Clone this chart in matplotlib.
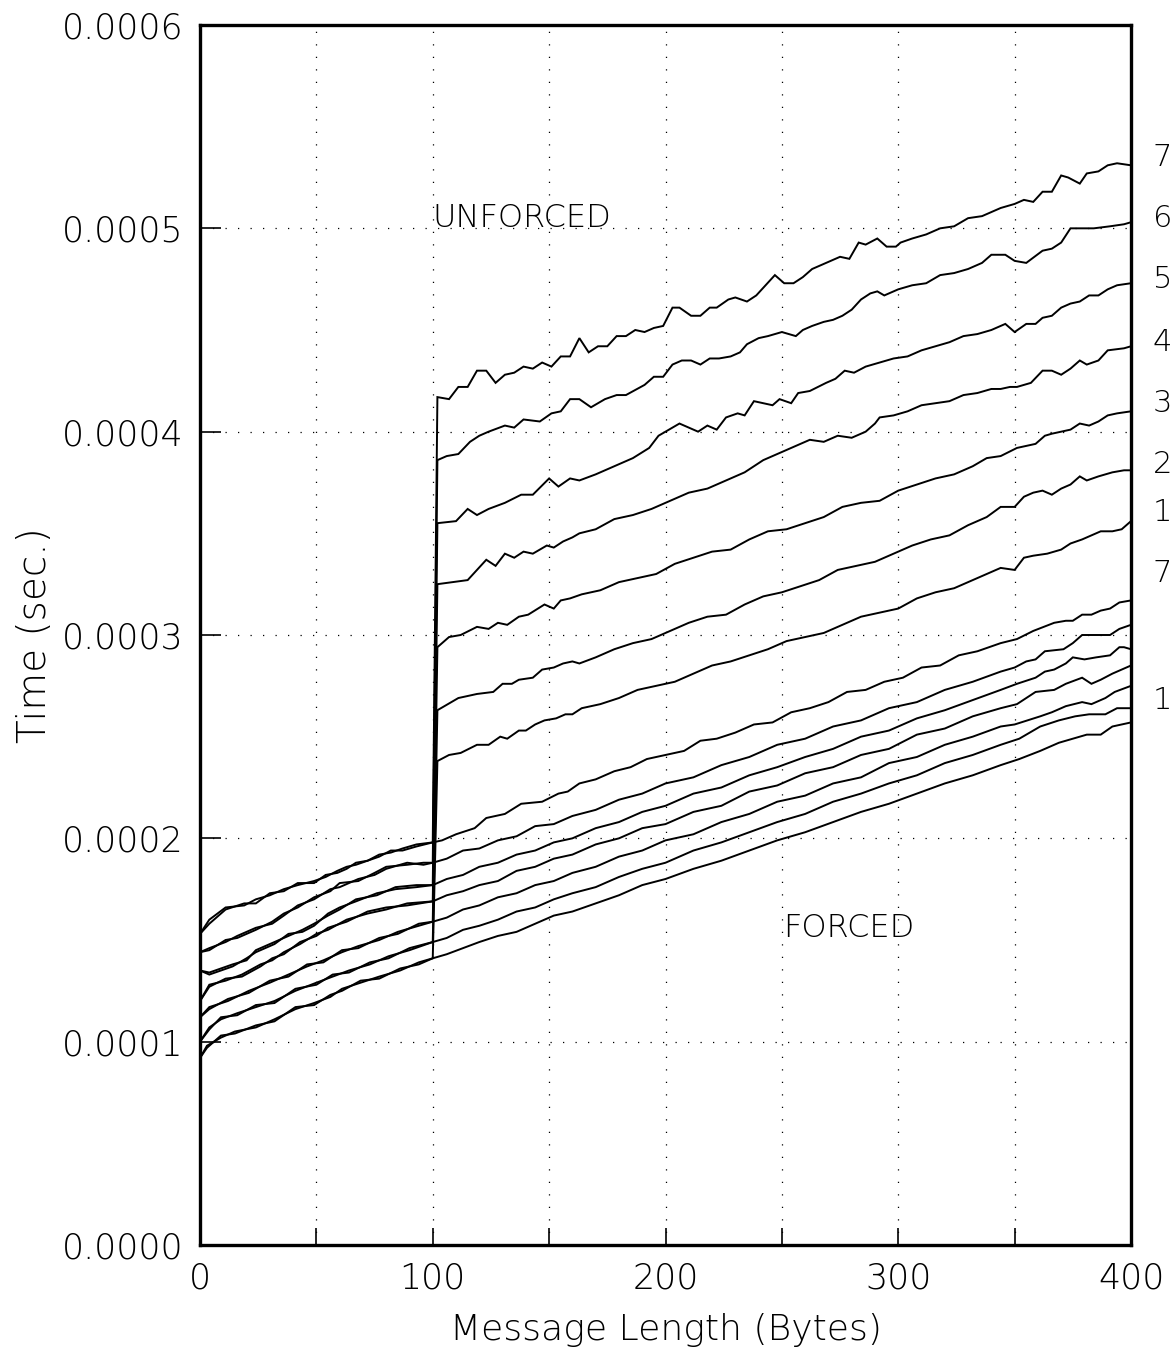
import matplotlib
matplotlib.use("Agg")
import matplotlib.pyplot as plt
from matplotlib.ticker import MultipleLocator, FormatStrFormatter

# ---------------- data (time in microseconds, message length in bytes) -------------
# Forced runs 1..7
f1_x = [0, 3, 9, 15, 24, 32, 41, 49, 56, 61, 69, 77, 86, 94, 100, 106, 113, 120, 128, 136, 144, 152, 160,
        170, 180, 190, 200, 212, 224, 236, 248, 260, 272, 284, 296, 308, 320, 332, 344, 352, 361, 369, 375,
        381, 387, 392, 400]
f1_y = [92, 98, 102, 105, 107, 111, 116, 119, 122, 126, 129, 132, 135, 139, 141, 143, 146, 149, 152, 154,
        158, 162, 164, 168, 172, 177, 180, 185, 189, 194, 199, 203, 208, 213, 217, 222, 227, 231, 236, 239,
        243, 247, 249, 251, 251, 255, 257]

f2_x = [0, 4, 9, 16, 24, 32, 41, 50, 57, 64, 73, 81, 90, 100, 106, 113, 120, 128, 136, 144, 152, 160, 170,
        180, 190, 200, 212, 224, 236, 248, 260, 272, 284, 296, 308, 320, 332, 344, 352, 361, 369, 376, 382,
        389, 394, 400]
f2_y = [100, 107, 111, 114, 117, 120, 125, 129, 132, 135, 138, 142, 145, 149, 151, 155, 157, 160, 164, 166,
        170, 173, 176, 181, 185, 188, 194, 198, 203, 208, 212, 218, 222, 227, 231, 237, 241, 246, 249, 255,
        258, 260, 261, 261, 264, 264]

f3_x = [0, 4, 12, 21, 30, 38, 46, 53, 61, 68, 77, 85, 94, 100, 106, 113, 120, 128, 136, 144, 152, 160, 170,
        180, 190, 200, 212, 224, 236, 248, 260, 272, 284, 296, 308, 320, 332, 344, 350, 361, 366, 372, 379,
        383, 389, 393, 400]
f3_y = [112, 117, 120, 125, 129, 133, 137, 140, 144, 147, 150, 154, 157, 159, 161, 165, 167, 171, 173, 177,
        179, 183, 186, 191, 194, 199, 202, 208, 212, 218, 221, 227, 230, 237, 240, 246, 250, 255, 256, 260,
        262, 265, 267, 266, 269, 272, 275]

f4_x = [0, 4, 11, 18, 26, 31, 36, 43, 50, 55, 63, 72, 80, 89, 100, 106, 113, 120, 128, 136, 144, 152, 160,
        170, 180, 190, 200, 212, 224, 236, 248, 260, 272, 284, 296, 308, 320, 332, 344, 351, 359, 367, 372,
        379, 383, 387, 392, 400]
f4_y = [120, 128, 130, 133, 138, 140, 144, 148, 153, 155, 160, 163, 165, 168, 169, 172, 174, 177, 179, 184,
        186, 190, 192, 197, 200, 205, 207, 213, 216, 223, 226, 232, 235, 241, 244, 251, 254, 260, 264, 266,
        272, 273, 276, 279, 276, 278, 281, 285]

f5_x = [0, 4, 9, 14, 20, 24, 32, 38, 44, 49, 55, 60, 67, 76, 84, 93, 100, 106, 113, 120, 128, 136, 144, 152,
        160, 170, 180, 190, 200, 212, 224, 236, 248, 260, 272, 284, 296, 308, 320, 332, 344, 351, 359, 363,
        367, 372, 375, 380, 385, 391, 395, 397, 400]
f5_y = [135, 133, 135, 137, 141, 144, 148, 153, 154, 157, 163, 166, 169, 173, 175, 176, 177, 180, 182, 186,
        188, 192, 194, 198, 200, 205, 208, 213, 216, 222, 225, 231, 235, 240, 244, 250, 253, 259, 263, 268,
        273, 276, 279, 282, 283, 286, 289, 288, 289, 290, 294, 294, 293]

f6_x = [0, 4, 11, 16, 24, 31, 36, 42, 49, 56, 60, 68, 75, 80, 89, 96, 100, 106, 113, 120, 128, 136, 144,
        152, 160, 170, 180, 190, 200, 212, 224, 236, 248, 260, 272, 284, 296, 308, 320, 332, 344, 350, 355,
        359, 363, 371, 375, 379, 382, 387, 391, 395, 400]
f6_y = [144, 145, 150, 151, 155, 159, 163, 166, 171, 174, 178, 179, 183, 186, 187, 188, 188, 190, 194, 195,
        199, 201, 206, 207, 211, 214, 219, 222, 227, 230, 236, 240, 246, 249, 255, 258, 264, 267, 273, 277,
        282, 284, 287, 288, 292, 293, 296, 300, 300, 300, 300, 303, 305]

f7_x = [0, 4, 11, 19, 24, 30, 36, 42, 49, 54, 59, 63, 67, 72, 77, 82, 87, 93, 100, 104, 110, 118, 123, 131,
        138, 147, 154, 158, 163, 170, 178, 185, 192, 200, 208, 215, 222, 230, 238, 246, 254, 262, 270, 278,
        286, 294, 302, 310, 318, 326, 334, 344, 351, 358, 367, 372, 375, 379, 383, 387, 391, 395, 400]
f7_y = [153, 160, 166, 167, 170, 172, 175, 177, 179, 181, 184, 186, 187, 189, 192, 193, 195, 197, 198, 199,
        202, 205, 210, 212, 217, 218, 222, 223, 227, 229, 233, 235, 239, 241, 243, 248, 249, 252, 256, 257,
        262, 264, 267, 272, 273, 277, 279, 284, 285, 290, 292, 296, 298, 302, 306, 307, 307, 310, 310, 312,
        313, 316, 317]

# Unforced runs 1..7
u1_x = [0, 3, 9, 15, 24, 32, 41, 49, 56, 61, 69, 77, 86, 94, 100, 102, 107, 112, 119, 124, 129, 132, 137,
        140, 144, 148, 153, 157, 160, 164, 172, 180, 188, 196, 204, 212, 220, 228, 236, 244, 252, 260, 268,
        276, 284, 292, 300, 308, 316, 324, 332, 338, 344, 350, 354, 358, 364, 370, 374, 379, 383, 387, 392,
        396, 400]
u1_y = [92, 97, 103, 104, 108, 110, 117, 118, 123, 125, 130, 131, 136, 138, 141, 238, 241, 242, 246, 246,
        250, 249, 253, 253, 256, 258, 259, 261, 261, 264, 266, 269, 273, 275, 277, 281, 285, 287, 290, 293,
        297, 299, 301, 305, 309, 311, 313, 318, 321, 323, 327, 330, 333, 332, 338, 339, 340, 342, 345, 347,
        349, 351, 351, 352, 356]

u2_x = [0, 4, 9, 16, 24, 32, 41, 50, 57, 64, 73, 81, 90, 100, 102, 108, 111, 119, 126, 130, 134, 137, 143,
        147, 152, 156, 160, 163, 170, 178, 186, 194, 202, 210, 218, 226, 234, 242, 250, 258, 266, 274, 282,
        290, 298, 306, 314, 322, 330, 338, 344, 350, 354, 358, 362, 366, 370, 374, 378, 381, 386, 392, 397,
        400]
u2_y = [100, 106, 112, 113, 118, 119, 126, 128, 133, 134, 139, 141, 146, 149, 263, 267, 269, 271, 272, 276,
        276, 278, 279, 283, 284, 286, 287, 286, 289, 293, 296, 298, 302, 306, 309, 310, 315, 319, 321, 324,
        327, 332, 334, 336, 340, 344, 347, 349, 354, 358, 363, 363, 368, 370, 371, 369, 372, 374, 378, 376,
        378, 380, 381, 381]

u3_x = [0, 4, 12, 21, 30, 38, 46, 53, 61, 68, 77, 85, 94, 100, 102, 107, 112, 119, 124, 128, 132, 137, 141,
        148, 152, 155, 159, 164, 172, 180, 188, 196, 204, 212, 220, 228, 236, 244, 252, 260, 268, 276, 284,
        292, 300, 308, 316, 324, 332, 338, 344, 351, 355, 359, 363, 366, 370, 374, 378, 382, 386, 390, 394,
        400]
u3_y = [112, 116, 121, 124, 130, 132, 138, 139, 145, 146, 151, 153, 158, 159, 294, 299, 300, 304, 303, 306,
        305, 309, 310, 315, 313, 317, 318, 320, 322, 326, 328, 330, 335, 338, 341, 342, 347, 351, 352, 355,
        358, 363, 365, 366, 371, 374, 377, 379, 383, 387, 388, 392, 393, 394, 398, 399, 400, 401, 404, 403,
        405, 408, 409, 410]

u4_x = [0, 4, 11, 18, 26, 31, 36, 43, 50, 55, 63, 72, 80, 89, 100, 102, 115, 123, 127, 131, 135, 139, 143,
        149, 152, 156, 160, 163, 170, 178, 186, 194, 202, 210, 218, 226, 234, 242, 250, 256, 262, 268, 274,
        280, 286, 290, 292, 298, 304, 310, 316, 322, 328, 334, 340, 344, 348, 351, 357, 362, 366, 370, 374,
        378, 381, 386, 390, 397, 400]
u4_y = [120, 127, 131, 132, 137, 141, 143, 149, 152, 156, 159, 164, 166, 167, 169, 325, 327, 337, 334, 340,
        338, 341, 340, 344, 343, 346, 348, 350, 352, 357, 359, 362, 366, 370, 372, 376, 380, 386, 390, 393,
        396, 395, 398, 397, 400, 404, 407, 408, 410, 413, 414, 415, 418, 419, 421, 421, 422, 422, 424, 430,
        430, 428, 431, 435, 433, 435, 440, 441, 442]

u5_x = [0, 4, 9, 14, 20, 24, 32, 38, 44, 49, 55, 60, 67, 76, 84, 93, 100, 102, 110, 115, 119, 124, 131,
        138, 143, 150, 154, 159, 163, 170, 178, 186, 193, 197, 206, 214, 218, 222, 226, 231, 234, 238, 242,
        246, 249, 254, 257, 262, 269, 273, 277, 281, 286, 292, 298, 304, 310, 316, 322, 328, 334, 340, 346,
        350, 355, 359, 362, 366, 370, 374, 378, 382, 386, 390, 394, 400]
u5_y = [135, 134, 136, 138, 140, 145, 149, 152, 155, 158, 162, 165, 170, 172, 176, 177, 177, 355, 356, 362,
        359, 362, 365, 369, 369, 377, 373, 377, 376, 379, 383, 387, 392, 398, 404, 400, 403, 401, 407, 409,
        408, 415, 414, 413, 416, 414, 419, 420, 424, 426, 430, 429, 432, 434, 436, 437, 440, 442, 444, 447,
        448, 450, 453, 449, 453, 453, 456, 457, 461, 463, 464, 467, 467, 470, 472, 473]

u6_x = [0, 4, 11, 16, 24, 31, 36, 42, 49, 56, 60, 68, 75, 80, 89, 96, 100, 102, 106, 111, 116, 120, 124,
        131, 135, 139, 146, 151, 155, 159, 163, 168, 174, 179, 183, 191, 195, 199, 203, 207, 211, 215, 219,
        223, 228, 232, 235, 240, 244, 250, 256, 259, 263, 268, 272, 276, 280, 284, 288, 291, 294, 300, 306,
        312, 318, 324, 330, 336, 340, 346, 350, 355, 362, 366, 370, 374, 379, 384, 391, 397, 400]
u6_y = [144, 146, 149, 152, 156, 158, 162, 167, 170, 175, 176, 180, 182, 185, 188, 187, 188, 386, 388, 389,
        395, 398, 400, 403, 402, 406, 405, 409, 410, 416, 416, 412, 416, 418, 418, 423, 427, 427, 433, 435,
        435, 433, 436, 436, 437, 439, 443, 446, 447, 449, 447, 450, 452, 454, 455, 457, 460, 465, 468, 469,
        467, 470, 472, 473, 477, 478, 480, 483, 487, 487, 484, 483, 489, 490, 493, 500, 500, 500, 501, 502,
        503]

u7_x = [0, 4, 11, 19, 24, 30, 36, 42, 49, 54, 59, 63, 67, 72, 77, 82, 87, 93, 100, 102, 107, 111, 115, 119,
        123, 127, 131, 135, 139, 143, 147, 151, 155, 159, 163, 167, 171, 175, 179, 183, 187, 191, 195, 199,
        203, 206, 211, 215, 219, 222, 227, 230, 235, 239, 247, 251, 255, 259, 263, 267, 271, 275, 279, 283,
        286, 291, 295, 299, 301, 306, 312, 318, 324, 330, 336, 340, 344, 350, 354, 358, 362, 366, 370, 373,
        378, 381, 386, 390, 394, 400]
u7_y = [153, 158, 165, 168, 168, 173, 174, 178, 178, 182, 183, 185, 188, 189, 191, 194, 194, 196, 198, 417,
        416, 422, 422, 430, 430, 424, 428, 429, 432, 431, 434, 432, 437, 437, 446, 439, 442, 442, 447, 447,
        450, 449, 451, 452, 461, 461, 457, 457, 461, 461, 465, 466, 464, 467, 477, 473, 473, 476, 480, 482,
        484, 486, 485, 493, 492, 495, 491, 491, 493, 495, 497, 500, 501, 505, 506, 508, 510, 512, 514, 513,
        518, 518, 526, 525, 522, 527, 528, 531, 532, 531]

series = [(f1_x, f1_y), (f2_x, f2_y), (f3_x, f3_y), (f4_x, f4_y), (f5_x, f5_y), (f6_x, f6_y), (f7_x, f7_y),
          (u1_x, u1_y), (u2_x, u2_y), (u3_x, u3_y), (u4_x, u4_y), (u5_x, u5_y), (u6_x, u6_y), (u7_x, u7_y)]

x_ticks = [0, 100, 200, 300, 400]
y_ticks = [0.0, 0.0001, 0.0002, 0.0003, 0.0004, 0.0005, 0.0006]

# right-hand curve labels (text, y position in seconds)
end_labels = ["7", "6", "5", "4", "3", "2", "1", "7", "1"]
end_label_y = [0.000535, 0.000505, 0.000475, 0.000444, 0.000414, 0.000384, 0.000360, 0.000330, 0.000268]

# ---------------- figure ----------------
W, H = 1173, 1351
fig = plt.figure(figsize=(W / 100, H / 100), dpi=100)
ax = fig.add_axes([200 / W, 1 - 1245 / H, (1131 - 200) / W, (1245 - 25) / H])

for xs, ys in series:
    ax.plot(xs, [v * 1e-6 for v in ys], color="black", lw=1.4, solid_joinstyle="miter")

ax.set_xlim(0, 400)
ax.set_ylim(0, 0.0006)

# dotted grid
for gx in [50, 100, 150, 200, 250, 300, 350]:
    ax.axvline(gx, color="black", lw=0.9, ls=(0, (1, 9)), zorder=0)
for gy in [0.0001, 0.0002, 0.0003, 0.0004, 0.0005]:
    ax.axhline(gy, color="black", lw=0.9, ls=(0, (1, 9)), zorder=0)

ax.set_xticks(x_ticks)
ax.set_yticks(y_ticks)
ax.xaxis.set_minor_locator(MultipleLocator(50))
ax.yaxis.set_major_formatter(FormatStrFormatter("%.4f"))
ax.tick_params(axis="both", which="both", direction="in", width=1.2, labelsize=25,
               top=False, right=False)
ax.tick_params(axis="x", which="both", length=12, pad=12)
ax.tick_params(axis="y", which="major", length=15, pad=12)
for lab in ax.get_xticklabels() + ax.get_yticklabels():
    lab.set_fontweight("light")
for sp in ax.spines.values():
    sp.set_linewidth(2.4)

# annotations
ax.text(100, 0.000505, "UNFORCED", fontsize=23, fontweight="light", ha="left", va="center")
ax.text(250.5, 0.000156, "FORCED", fontsize=23, fontweight="light", ha="left", va="center")
for t, yv in zip(end_labels, end_label_y):
    ax.text(409.3, yv, t, fontsize=22, fontweight="light", ha="left", va="center", clip_on=False)

fig.text(35 / W, 1 - 635 / H, "Time (sec.)", rotation=90, fontsize=28, fontweight="light",
         ha="center", va="center")
fig.text(666 / W, 1 - 1330 / H, "Message Length (Bytes)", fontsize=26, fontweight="light",
         ha="center", va="center")

fig.savefig("out.png", dpi=100)
